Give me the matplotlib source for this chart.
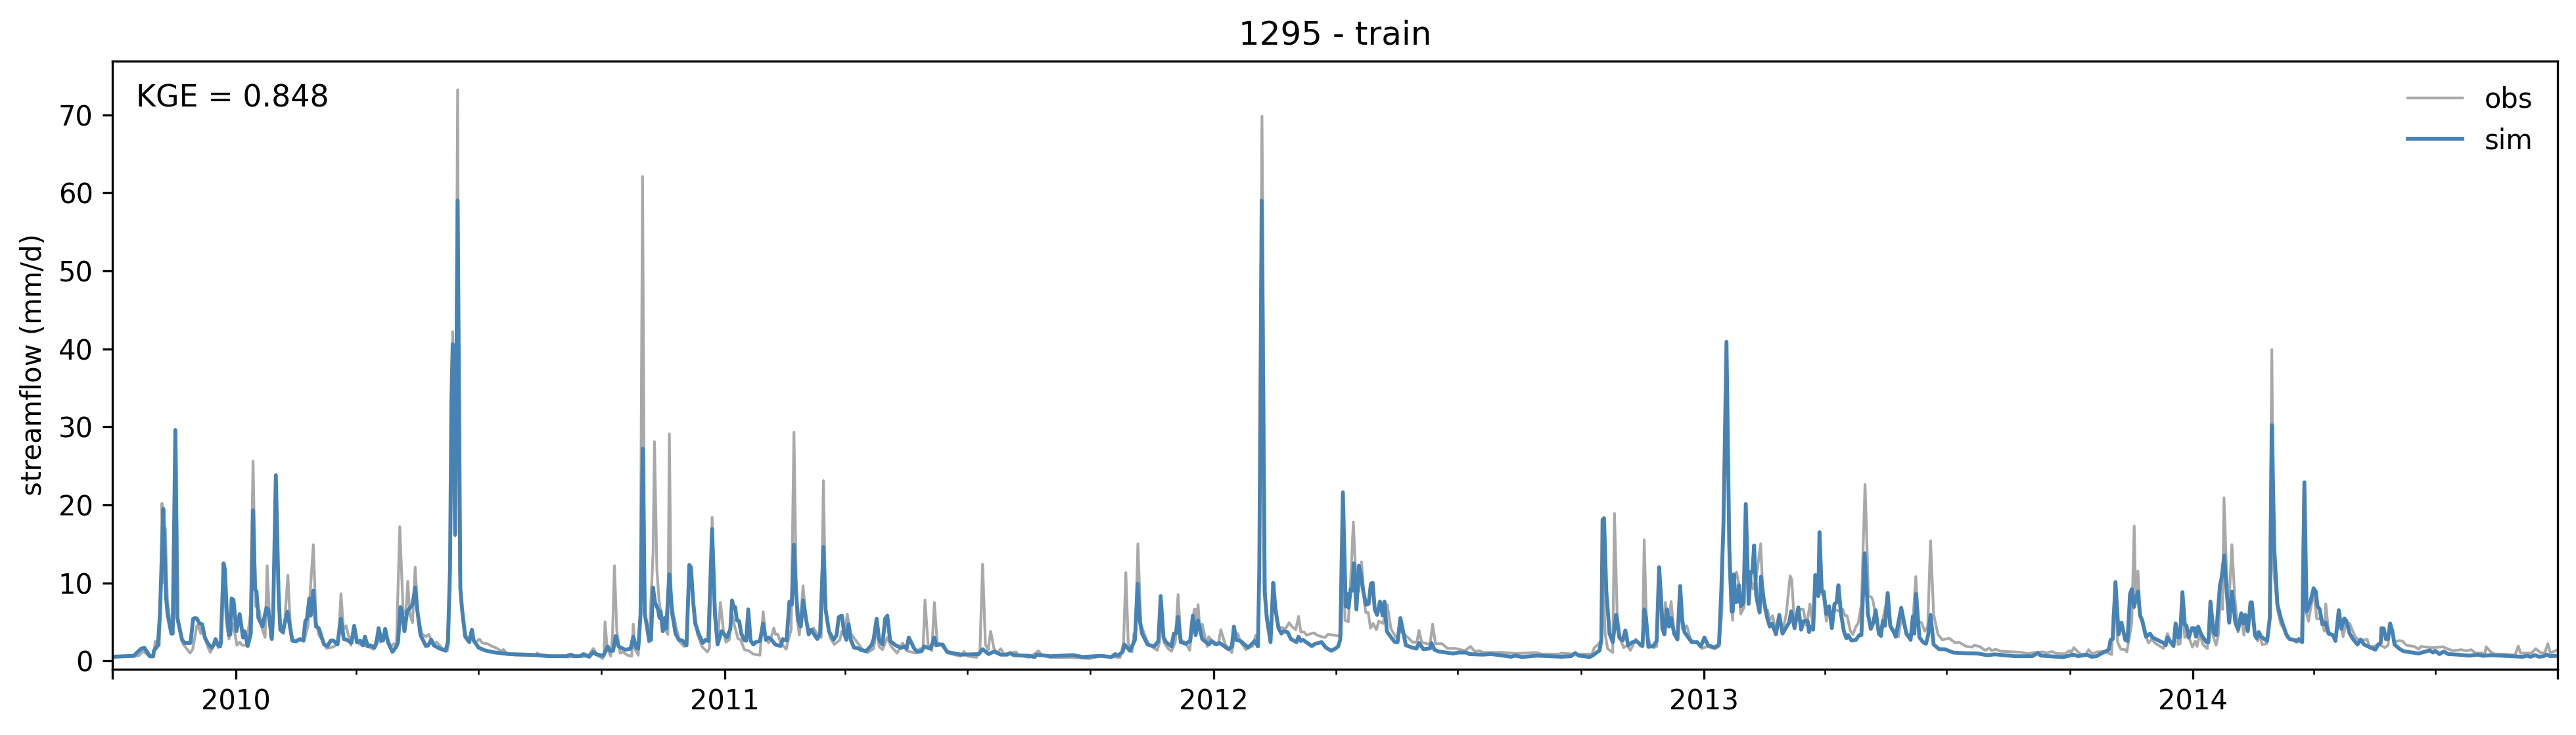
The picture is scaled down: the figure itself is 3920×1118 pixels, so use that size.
import numpy as np
import pandas as pd
import matplotlib
matplotlib.use("Agg")
import matplotlib.pyplot as plt
import matplotlib.dates as mdates

# values: days since start_date, flow in mm/d
start_date = "2009-10-01"
end_date = "2014-09-30"
year_ticks = ["2010-01-01", "2011-01-01", "2012-01-01", "2013-01-01", "2014-01-01"]
year_labels = ["2010", "2011", "2012", "2013", "2014"]
y_ticks = [0, 10, 20, 30, 40, 50, 60, 70]
kge = 0.848

obs_day = [0, 16, 20, 23, 26, 28, 30.5, 32, 35, 36.5, 37, 38.5, 39.5, 41, 43, 45, 46, 47.5, 49, 52.5, 58, 60, 63, 64, 66, 67, 71, 73, 75, 77, 79, 81, 83, 85, 87, 90, 93, 95, 97, 100, 103, 105, 107, 109.6, 112, 114, 115.5, 118, 119.5, 122, 124, 126, 128, 131, 133, 135, 140, 143, 146, 150, 152, 154, 160, 165, 168, 169.5, 170.6, 172.5, 174.5, 178, 180, 183, 186, 190, 195, 198, 200, 204, 206, 208, 210, 212, 214.5, 217, 219, 220.5, 222, 224, 226, 228,
           231, 234, 236, 238, 240, 242, 248, 250, 251, 252.5, 254, 255.8, 257.7, 259, 261, 263, 266, 268, 270, 272, 274, 276, 280, 283, 286, 290, 292, 294, 300, 316, 317, 319, 330, 340, 350, 355, 359, 362, 366, 367, 367.7, 369.3, 372, 373.3, 374.7, 376.5, 379, 381, 384.4, 387.6, 388.8, 390, 392.5, 394, 395.7, 397.4, 400.4, 402.3, 403.6, 404.6, 406.4, 408, 410.5, 414.6, 415.7, 417, 421, 423.6, 426.8, 428.8, 430.6, 432, 433.7, 436.6, 440, 444, 445.6, 447.6, 449.7, 451.7, 453.8, 456.3,
           458, 460.4, 462.5, 464.5, 467, 468.6, 471.8, 475, 478.4, 483.3, 485.7, 487.7, 489.8, 492.3, 493.6, 495, 496.7, 498.8, 502.9, 504.5, 506.6, 508.7, 510.7, 512.7, 515.5, 517.6, 519.7, 523.3, 526.6, 529, 530.7, 532.3, 535.6, 538.8, 543, 544.5, 546.7, 548.5, 551, 555.2, 560, 563.7, 568.2, 570.4, 572.3, 574.8, 578.4, 581.3, 585.7, 589.8, 592.8, 599.3, 602.6, 605, 606.5, 608.8, 611.6, 613.5, 615.6, 619.7, 623.8, 632.8, 635.6, 638.5, 645, 647.5, 649.5, 651.6, 653.7, 655.5, 658, 660.6, 663, 665.5, 674.5, 676,
           684, 689.2, 691.2, 693.3, 699.8, 716, 729.2, 737.4, 752.1, 754.7, 756.4, 758.2, 761.1, 762.4, 763.6, 765.4, 767.6, 770.1, 773.4, 779.9, 781.5, 782.4, 784.8, 788, 790.5, 793.3, 795.4, 797.4, 801.1, 804.1, 806, 807.4, 808.5, 809.3, 810.3, 811.8, 813.4, 817.2, 818.3, 822.4, 825.7, 827.3, 830.6, 835.5, 837.9, 840, 842, 846.1, 848.5, 851, 853.4, 855, 856, 858, 860.5, 862.4, 864.4, 866.4, 868.5, 870.6, 875.5, 878.3, 880.4, 883.2, 885.3, 887, 889.4, 891.3, 896.7, 899.2, 902.5, 905, 907.3,
           911.5, 915.6, 917.2, 918.4, 920, 922.5, 924.6, 926.2, 927.8, 928.7, 930.3, 932.3, 934.4, 935.5, 937.3, 939, 941, 943.4, 945.3, 948.3, 951.5, 954.3, 958, 961.3, 967, 970.3, 973.6, 975.2, 977.2, 981, 983.4, 985.4, 987.5, 992.4, 996.5, 1002.2, 1009.5, 1013.6, 1016.9, 1020.2, 1023.4, 1037.3, 1047.1, 1062.6, 1066.7, 1079.8, 1081.4, 1091.2, 1096.1, 1104.3, 1106, 1108.9, 1111.2, 1112.5, 1114.1, 1116, 1119.8, 1121.1, 1123.1, 1125.6, 1128, 1130.5, 1133, 1137,
           1140.3, 1142, 1143.3, 1145.2, 1147.7, 1150.1, 1152.6, 1154.4, 1156.3, 1158.3, 1159.1, 1161.2, 1163.4, 1165.6, 1168.1, 1170.1, 1171.7, 1175.1, 1177.9, 1182.8, 1186.4, 1190.2, 1195.9, 1199.1, 1201.3, 1204.7, 1206.8, 1209.3, 1210.3, 1212.2, 1213.8, 1215.3, 1217.9, 1219.1, 1221.2, 1222.8, 1224.5, 1226.8, 1230.2, 1231.8, 1233.5, 1235.4, 1237, 1239.2, 1241.6, 1244.1, 1246.5, 1249.3, 1252.2, 1253.4, 1255.5, 1258.3, 1262, 1264.5, 1267, 1269.4, 1271, 1274.1, 1277.2, 1279.2, 1281.3, 1283.3, 1285.7, 1289, 1291.5, 1293.1, 1294.7, 1297.2, 1299.1, 1301.3, 1302.9, 1305.4, 1308.1, 1310.7, 1312.7, 1314, 1316.8, 1319.2, 1325, 1327.4, 1331, 1333.1, 1335.1, 1339.7, 1342.1, 1344.1, 1346, 1347.8, 1350.3, 1352.7, 1354.9, 1357, 1359.3, 1362.5, 1365.8,
           1370.8, 1375.7, 1378.1, 1383.8, 1387.9, 1389.6, 1393.6, 1397.7, 1401, 1402.6, 1405.4, 1409.2, 1424.7, 1429.6, 1434.5, 1441, 1443.5, 1447.6, 1450.8, 1457.4, 1460.6, 1462, 1463.9, 1468.8, 1472.9, 1475, 1477.8, 1481, 1485.1, 1489.2, 1492.2, 1493.3, 1495, 1496.6, 1499, 1502.3, 1503.5, 1505.6, 1507.2, 1509, 1510.1, 1511.8, 1513.4, 1517, 1519.8, 1522, 1524.4, 1530.9, 1533.8, 1536.6, 1538.6, 1540, 1541.7, 1543.3, 1545, 1546.7, 1549.2, 1552.5, 1554.6, 1555.9, 1557.9, 1560.3, 1563.6, 1565.9, 1567.7, 1570.1, 1571.8, 1573.7, 1575, 1576, 1577.8, 1579.4, 1581.9, 1584, 1586.5, 1588.9, 1590.9, 1592.2, 1593.8,
           1596.8, 1599.1, 1601.2, 1602.9, 1604.5, 1607.8, 1609.9, 1611.7, 1613.1, 1615.9, 1618.4, 1620.8, 1623.3, 1630.1, 1633.9, 1635.8, 1637.7, 1639.1, 1642.9, 1645.3, 1648.6, 1651, 1652, 1654, 1657.6, 1659.6, 1661.7, 1664.9, 1666.6, 1669.8, 1673.9, 1677.2, 1682.9, 1684.6, 1687.8, 1691.9, 1696, 1698.4, 1700, 1703.3, 1706.6, 1709, 1712.3, 1718, 1721.3, 1723, 1731.1, 1739.3, 1742.6, 1746.6, 1753.2, 1756.5, 1760.5, 1763.8, 1768.7, 1770.7, 1771.6, 1775.2, 1777.7, 1785, 1793.2, 1795.7, 1797.3, 1805.5, 1808.7, 1812, 1815.3, 1817.7, 1819.7, 1824]

obs_flow = [.5, .55, .7, 1.3, .8, .5, .5, 2.5, 2, 10, 20.2, 10, 17, 8, 5, 3.5, 6, 29, 5.5, 2.2, 1, 1.5, 4.5, 4.6, 3.5, 4.5, 1.9, 1.1, 1.7, 2.8, 1.7, 2.2, 12, 5, 2.8, 4.8, 2, 2.4, 2, 2, 6, 25.6, 7, 6.5, 4, 3, 12.2, 3, 3.3, 22, 7, 4, 3.5, 11, 4, 2.5, 2.8, 2.5, 4.5, 14.9, 5, 3.4, 1.6, 1.8, 2.2, 5, 8.6, 4, 4.5, 2, 4.3, 2.3, 2, 1.9, 1.5, 3.5, 2.4, 3.5, 2.6, 1.8, 2.2, 2, 17.2, 6.5, 6, 10.2, 6, 4.9, 12, 6,
            3.5, 3.1, 3.4, 2.7, 2.2, 2.4, 1.3, 1.3, 2.5, 15, 42.2, 16, 73.2, 12, 6, 3.2, 3, 3.2, 2.5, 2.5, 2.8, 2.3, 2.2, 1.9, 1.7, 1.3, 1.45, 1, .75, .7, 1, .8, .6, .5, .55, .6, 1.6, .7, .3, 1, 5, 1.6, .6, 3.3, 12.2, 3.8, 1, 1.15, .73, .6, 4.7, 1.57, .73, 6, 62.1, 6, 2.4, 8.9, 14, 28.1, 11.7, 7.8, 4.7, 3.4, 29.1, 7.5, 4.1, 2.4, 1.85, 2, 12, 11, 7.5, 3.5, 1.85, 1.15, 1.6, 18.4, 7.5, 2.1, 7.5, 3.5,
            2.4, 2.7, 6, 4.4, 2.8, 2.8, 1.43, 1.3, .87, .73, 6.3, 3, 2.3, 3.3, 4.2, 3.4, 3.4, 2.3, 1.5, 2.7, 4, 29.3, 6, 3.3, 9.6, 5.5, 3.5, 4.2, 3.3, 3, 23.1, 6.6, 3, 2.1, 2.7, 3.8, 3.8, 6, 3.5, 2.55, 1.43, 1.07, 1.57, 4.4, 1.85, 1.43, 3, 1.85, 1, 2.3, 1.3, 1, 1.57, 1.43, 7.8, 2.1, 1.3, 7.5, 2.4, 1.85, 1, .6, 1.2, .6, .45, 1.3, 12.4, 2.1, 1.43, 3.8, 1.57, 1, 1.57, .87, 1.15, .73,
            .45, 1, 1.3, .8, .45, .45, .3, .6, .45, 2.3, 11.3, 2.3, 1.15, 3.5, 3.3, 15, 4.7, 3.5, 2.1, 1.35, 2.4, 7.75, 2.4, 1.57, 1.24, 2.4, 8.5, 2.7, 2.3, 1.35, 4.4, 6.6, 6.6, 4.4, 7.2, 3.5, 4.7, 1.85, 3.1, 2.1, 2.4, 4, 2.1, 1.07, 3.3, 3.5, 2.4, 1.43, 1.85, 1.85, 3.3, 1.85, 11.7, 69.8, 8.3, 4.7, 2.4, 8.9, 6, 4.4, 4.1, 4.9, 4.4, 4, 5.7, 3.7, 3.7, 3.3, 3.6, 3.3, 3.1, 3, 3.4,
            3.3, 3.2, 3.3, 14.5, 5.2, 5, 11.7, 17.8, 11.7, 10, 8.9, 12.7, 7.5, 6.2, 6.2, 4.2, 4.8, 4, 5.1, 4.8, 7.2, 4.1, 3, 3.8, 3, 2.4, 2.4, 3.9, 2.4, 2.2, 2.1, 4.7, 2.2, 2.2, 1.6, 1.6, 1.3, 1.85, 1.2, 1.3, 1.07, 1.1, .95, 1.07, .87, .87, 1, .87, .87, .87, 1.7, 2.1, 2.7, 11.7, 3.5, 1.57, 1.07, 18.9, 6, 2.7, 1.7, 2, 1.35, 2.8,
            1.9, 1.85, 15.5, 3.5, 2.1, 1.7, 1.85, 11.7, 4.1, 3.5, 7.5, 4.4, 7.6, 3.5, 2.75, 8.9, 4.1, 4.5, 2.7, 2.3, 1.57, 1.85, 1.57, 1.85, 6.35, 40.9, 11.7, 5.2, 10, 11.4, 10, 6, 6.9, 17.3, 7.75, 10.5, 9.2, 10.5, 15, 8.9, 6.35, 6.5, 5.2, 5.8, 3.7, 5.2, 3.7, 6, 10.9, 10.4, 4.4, 6.6, 6.6, 4.5, 7.3, 4.1, 9.2, 8.9, 8.3, 5.1, 6.6, 4.7, 6.6, 6.35, 6.6, 5.8, 5.8, 3.8, 3.4, 4.4, 4.8, 7.2, 22.6, 8.3, 8.2, 7.75, 4.9, 3.5, 8.3, 4.1, 3.4, 3.1, 5.5, 3.5, 3, 5.8, 10.8, 5.1, 4.9, 3.8, 4.4, 15.4, 6, 3.4, 2.7,
            2.9, 2.3, 2.4, 1.85, 1.77, 2, 1.85, 1.35, 1.63, 1.3, 1.5, 1.24, 1.1, .93, 1.07, 1.15, 1, 1.2, .95, .9, 1.3, 1.07, 1.7, .87, .87, 1.43, .87, 1.15, 1.2, 1.07, .8, 6, 9.2, 2.4, 1.5, 1.43, 1.15, 3.3, 4.9, 17.3, 7.75, 11.5, 6, 3.3, 2.3, 2.8, 2.3, 1.6, 3.5, 2.3, 1.9, 4.7, 2.1, 2.2, 7.75, 3, 3.3, 1.77, 2.55, 1.85, 3.5, 2.1, 1.57, 6.35, 3.3, 2, 3.3, 9.2, 6.6, 20.9, 12, 6, 14.9, 8.3, 3.7, 5.5, 3.3, 5.5, 4.1,
            7.2, 3.3, 2.55, 3.3, 2.1, 2.2, 5.2, 39.9, 11.7, 6.6, 4.7, 4.1, 3, 2.4, 2.55, 22.5, 6, 5.1, 8.9, 5.4, 5.4, 3.8, 7.3, 3.8, 3.1, 3, 6, 3.1, 4.5, 4.8, 3.1, 2.55, 2.75, 1.85, 1.85, 2.1, 1.7, 2, 4.7, 2.4, 2.6, 2.55, 2, 1.85, 1.5, 1.85, 1.7, 1.8, 1.57, 1.3, 1.43, 1.3, 1.43, 1, 1, .87, 1.8, 1.15, .87, .87, .73, 1.9, 1, 1, 1.57, 1.07, 1, 2.2, 1, 1.35]

sim_day = [0, 16, 18, 21.5, 24, 26.5, 28, 30.5, 31, 34, 35.5, 38, 39, 40, 41.2, 44, 45, 47, 48.5, 52, 54, 58.3, 60.3, 61.6, 63, 65, 67, 69, 71.4, 74, 75.5, 77, 79, 80.4, 81, 83, 84, 85.3, 87, 88, 89, 90.4, 92.6, 95, 97.5, 98.7, 101, 103.3, 105, 106.5, 107.6, 109, 112, 115, 116.3, 119, 120, 122, 124, 125.3, 127, 130.7, 134.3, 137, 140, 142.5, 144, 145.2, 147, 148, 150, 152, 154, 158, 160.5, 163, 165, 168, 170.6, 172.7, 175, 178.4, 180.5, 182.5, 185, 187, 188.5, 190.7, 192.3, 195.6, 197.2, 198.7, 200.8, 202, 203.6, 205.7, 209, 212, 213.2, 215, 216, 218, 220, 224, 226, 227.5,
           230, 234, 235.7, 238, 239.8, 244, 248.7, 250.4, 252, 253, 254, 255.8, 257.7, 259.7, 261, 263.4, 266.4, 268.3, 269.7, 273.3, 278, 284.7, 296, 309, 317.4, 325.5, 338.6, 342, 345, 349, 351.7, 355.8, 359, 360.7, 366.4, 369.7, 371.3, 373.7, 375.7, 377.8, 382.7, 386.8, 388.8, 391, 392.5, 394.2, 395.8, 397.4, 400.7, 402, 403.5, 405, 407.2, 408.4, 409.2, 410.8, 412.1, 413.4, 415.7, 417.9, 420.3, 422.8, 425.5, 428.5, 430.6, 431.8, 433.4, 435, 437.5, 440.7, 442.7, 444.8, 447.6, 449.7, 451.7, 454.6,
           458.8, 461.2, 462.5, 463.7, 464.8, 466.1, 467.8, 469.4, 471.8, 473, 474.6, 476.3, 478.4, 480, 483.3, 485.7, 487.7, 489.5, 491.8, 494.7, 498.8, 500.4, 502, 503.2, 505.3, 507.1, 508.6, 510.2, 511.9, 513.8, 515.6, 517.6, 519.7, 521.7, 524.1, 526.1, 528.2, 530.7, 532.3, 534.8, 538.3, 540.5, 542.1, 544.5, 546.2, 547.8, 549.5, 551.1, 553.5, 556.8, 558.4, 562.5, 566.6, 568.2, 570.4, 572.3, 574.8, 576.7, 578.4, 580.5, 584.6, 588.7, 591.1, 592.8, 594.4, 598.5, 601, 603.9, 605.8, 610.7, 613.5, 614.8, 617.3, 619.7, 623, 628.7, 633.6, 646.7, 649.5, 654, 658.1, 663, 667.9, 669.9, 672.8,
           684, 688.4, 689.7, 699.8, 717, 724.4, 737.4, 745.6, 748.5, 750.5, 754, 755.4, 759.5, 761.6, 763.2, 765.2, 766.8, 768.5, 772.6, 777.5, 780.7, 782.4, 784.5, 786.4, 790.5, 792.2, 793.8, 795.4, 797.4, 801.1, 804.4, 806.4, 808.5, 810.3, 813.4, 818.3, 820.4, 824, 826.5, 833, 835.5, 837.1, 838.7, 842, 847.7, 852.6, 855, 856, 857.8, 860, 861.6, 864.4, 866.4, 868.1, 870.3, 872.5, 873.9, 877.1, 879.6, 883.7, 885.3, 887, 888.6, 895.1, 897.9, 902.5, 905.7, 909.8,
           913, 914.8, 916.4, 918.4, 920.5, 921.6, 922.6, 924.2, 925.4, 926.5, 928.5, 930.3, 931.9, 933.6, 935.7, 937.6, 939.3, 940.6, 942.2, 943.9, 946.1, 948.1, 949.4, 951.2, 954, 957.3, 959.2, 961.3, 965.4, 970.3, 973.3, 975.2, 978.5, 983.4, 984.5, 986.7, 990, 1000.6, 1004.6, 1010.4, 1012.8, 1022.6, 1029.1, 1035.7, 1043.9, 1047.1, 1052, 1063.5, 1081.4, 1088.8, 1091.7, 1094.5, 1102.7, 1105.1, 1110, 1111.3, 1112.2, 1113.3, 1115, 1117.4, 1119.8, 1122.3, 1124.7, 1127.2, 1129.2, 1131.3, 1134.5, 1137.3,
           1142, 1143.4, 1144.7, 1146.4, 1150.1, 1152.6, 1154.4, 1155.8, 1157.1, 1158.3, 1160.3, 1161.9, 1163.5, 1165.6, 1168.1, 1170.1, 1171.7, 1173.3, 1178.7, 1182.8, 1185.6, 1188.2, 1191, 1195.9, 1199.1, 1200.8, 1202.4, 1204.7, 1206.8, 1208.5, 1209.4, 1210.3, 1211.4, 1212.2, 1213, 1214, 1215.6, 1217.4, 1219.1, 1221.2, 1222.8, 1224, 1225.3, 1226.9, 1229.4, 1230.4, 1232.6, 1235.1, 1237, 1238.7, 1241.6, 1244.1, 1246.5, 1248.6, 1251.4, 1253, 1255.5, 1258.3, 1260.4, 1262.4, 1265.3, 1266.3, 1267.8, 1269.4, 1271, 1273.2, 1274.1, 1275.8, 1277.2, 1279.2, 1281.3, 1283.3, 1285.3, 1286.9, 1288.2, 1290.2, 1292.3, 1294.2, 1295.5, 1298, 1301.3, 1303.7, 1305.4, 1307.8, 1310.3, 1312.4, 1314.3, 1316, 1318.4, 1320, 1321.4, 1323, 1325, 1326.9, 1329, 1331, 1335.1, 1338.9, 1342.1, 1343.8, 1344.9, 1346.2, 1348.7, 1351.4, 1353.6, 1355.2, 1357, 1359.3, 1363.4,
           1367.5, 1374, 1380.6, 1392, 1399.4, 1405.1, 1419.8, 1432.9, 1437, 1439.4, 1455.7, 1463.9, 1467.2, 1473.7, 1477, 1481, 1483.5, 1490, 1491.4, 1493, 1495, 1497.4, 1499.5, 1502.3, 1504, 1505.9, 1507.2, 1508.8, 1511.8, 1513.4, 1515, 1517.8, 1520.8, 1522.7, 1530.9, 1532.5, 1533.8, 1538.3, 1539.9, 1542, 1543.2, 1545, 1546.7, 1548, 1549.7, 1552.1, 1553.8, 1555.1, 1556.7, 1559, 1562.8, 1564.4, 1565.9, 1568.2, 1570.1, 1573, 1574.2, 1576.2, 1577.8, 1579.9, 1582, 1584.5, 1586.5, 1588.9, 1590.5, 1591.9, 1593.8, 1595.8,
           1596.8, 1599.1, 1600.4, 1602, 1603.7, 1608.2, 1610.2, 1611.8, 1613.5, 1615.9, 1618.4, 1620.3, 1622.5, 1624.9, 1628.2, 1630.1, 1631.8, 1634.4, 1636, 1637.7, 1640.4, 1642.9, 1644.5, 1645.8, 1647.5, 1649.4, 1651.9, 1654, 1657.3, 1659.2, 1661.7, 1663.6, 1665.8, 1667.4, 1669.8, 1672.3, 1675.6, 1678, 1680.5, 1685.4, 1689, 1691.1, 1693, 1693.5, 1695.2, 1696.8, 1698.4, 1700, 1701.7, 1703.3, 1706.6, 1709.9, 1721.3, 1729.5, 1732, 1733.6, 1736.8, 1740.1, 1743.4, 1750.7, 1759, 1765.4, 1769.5, 1775.2, 1790, 1798.9, 1802.2, 1804.7, 1808, 1811.2, 1814.5, 1817, 1819.4, 1824]

sim_flow = [.53, .65, 1, 1.57, 1.66, 1, .6, .6, 1.3, 2, 6, 19.5, 14.5, 8.3, 6, 3.5, 3.5, 29.6, 5.5, 2.7, 2.3, 2.3, 5.4, 5.5, 5.45, 4.8, 4.7, 3, 2.2, 1.7, 2, 2.8, 2, 1.85, 2.4, 12.5, 11.7, 6.6, 3.3, 3.4, 8, 7.8, 3.8, 6, 3, 3.8, 1.9, 3.5, 19.3, 9.2, 8.9, 5.5, 4.4, 6.8, 6.6, 2.8, 6, 23.8, 8.9, 4, 3.7, 6.3, 2.6, 2.5, 2.8, 2.6, 5.1, 5.4, 8, 5.8, 9, 4.4, 4.2, 2.1, 1.9, 2.6, 2.6, 2.1, 5.4, 2.8, 2.7, 2.3, 4.5, 2.4, 2.6, 2, 3.1, 1.85, 2, 1.7, 2.3, 4.2, 2.6, 2.6, 4.1, 2.4, 1.15, 1.85, 2.4, 6.9, 6.35, 3.8, 6.35, 7.2, 9.4, 6.6,
            3.3, 1.9, 2, 2.7, 2, 1.6, 1.3, 2.4, 11.7, 33, 40.6, 16.2, 59, 9.3, 6.6, 3.1, 2.4, 4, 2.6, 1.7, 1.35, 1.1, .87, .8, .73, .6, .6, .8, .6, .6, .87, .53, 1.15, .87, .65, 1.85, 1.3, 1.3, 3.2, 1.85, 1.43, 1.57, 3.1, 1.7, 1.57, 6, 27.2, 6, 2.6, 2.7, 9.4, 7.5, 6.6, 5.5, 6.35, 3.8, 5.5, 4.2, 11.1, 6, 3.5, 2.7, 2.6, 2, 12.3, 12, 7.75, 4.8, 3.5, 2.3, 2.7, 2.55, 16.9, 6, 2.1, 3.8,
            3, 4.1, 7.75, 6.9, 6.9, 5.2, 5.1, 3.5, 2.6, 2.6, 6.6, 2.6, 2.1, 2.4, 2.55, 4.8, 2.7, 3, 2.75, 2.1, 1.9, 2.8, 2.7, 2.6, 7.6, 7.2, 14.9, 8.9, 5.2, 4.4, 7.75, 5.5, 3.4, 4, 3.3, 2.8, 3.5, 14.6, 6.6, 3.8, 2.7, 3.3, 5.6, 5.8, 3.5, 2.7, 4.7, 2.7, 1.7, 1.6, 1.43, 1.24, 2, 2.8, 5.4, 2.7, 2.1, 5.4, 5.8, 2.55, 2, 1.66, 1.85, 1.57, 3, 1.57, 1.15, 1.24, 1.85, 1.57, 3, 2, 2.1, 2.1, 1.15, .95, .8, .87, 1.5, .87, 1.2, .8, .8, 1, .73,
            .65, .5, .8, .6, .73, .5, .65, .5, .87, .67, 1.15, 2.1, 1.3, 2.1, 2.7, 9.9, 5.2, 3.5, 2.1, 1.85, 2.55, 8.3, 3, 2.4, 1.85, 3.5, 3.5, 5.65, 2.4, 2.2, 2.55, 5.8, 3.3, 5.2, 2.8, 2.1, 2.55, 2.1, 2.3, 1.5, 1.85, 4.4, 2.7, 2.55, 1.7, 2.55, 1.85, 11.7, 59, 8.9, 5.5, 2.4, 10, 6.6, 4.2, 3.5, 3.8, 3.7, 2.8, 2.4, 3.1, 2.55, 2.7, 1.9, 2.2, 2.4, 1.7, 1.3,
            1.6, 1.85, 2.7, 21.6, 7, 8.6, 6.8, 9.2, 9, 12.5, 6.6, 12.2, 11.1, 8.9, 7.2, 7.3, 9.9, 10, 6.6, 5.9, 7.6, 5.8, 7.6, 3.8, 3.1, 2.4, 2.4, 5.5, 2, 1.7, 1.57, 2.3, 1.5, 1.6, 2.3, 1.43, 1.2, .95, 1.07, 1.07, .87, .8, .87, .73, .53, .67, .5, .67, .53, .6, 1, .67, .5, .73, 1.35, 2.7, 18.1, 18.3, 8.9, 3.5, 2.4, 5.9, 3, 2.6, 3.9, 2, 2.4, 2.55,
            1.9, 6.6, 5.5, 1.8, 1.9, 2.55, 12, 8.3, 4.1, 3.4, 6.6, 4.4, 5.5, 3.5, 2.75, 9.6, 5.2, 3.7, 2.4, 2.4, 1.85, 3, 2, 1.7, 2.1, 8.9, 17.3, 40.9, 14.5, 6.35, 6.35, 11.1, 7.5, 8.9, 7.6, 9.7, 7, 7.5, 20.1, 7.3, 11.4, 11.4, 14.8, 8.3, 6.2, 10.8, 7.75, 5.5, 4.4, 4.8, 3.4, 5.9, 3.5, 4.1, 4.9, 6.35, 4.2, 6.85, 4, 5.1, 5.1, 3.7, 4.4, 4, 11, 8.3, 16.5, 8.9, 8.9, 6, 7, 4.2, 7.3, 7.5, 9.7, 6, 3.8, 2.9, 3.3, 2.6, 2.7, 3.3, 3.3, 13.8, 6, 4.1, 4.9, 6.5, 3.5, 3.2, 5.1, 4.5, 8.7, 4.5, 3.9, 3.1, 6.8, 3.5, 2.7, 5.7, 3.5, 8.6, 3, 2.4, 2.2, 3.3, 5.9, 2.1, 1.5,
            1.5, 1.07, 1, .95, .73, .84, .6, .6, 1, .67, .48, .8, .6, .8, .53, .6, .87, 1.43, 2.7, 2.8, 10.1, 3.4, 4.9, 2.7, 2.55, 8.6, 9.2, 6.9, 8.9, 5.8, 5.2, 3.1, 3.5, 3, 2.3, 2, 3, 1.9, 4.8, 3, 3.1, 8.8, 4.7, 4.5, 3, 4.2, 4.2, 3.1, 4.4, 3.4, 2.4, 2.4, 7.6, 3.7, 3.3, 9.7, 10.6, 13.5, 9.4, 4.9, 8.9, 4.9, 4, 6.1, 4.8, 5.9, 3.8, 7.5,
            7.5, 3.3, 2.9, 3.7, 3.1, 2.55, 5.5, 30.2, 14.5, 7.2, 5.5, 4.5, 3.4, 2.8, 2.7, 2.55, 2.8, 2.4, 22.9, 6.35, 7.5, 9.3, 8.9, 7, 6.6, 4.7, 4.9, 3.5, 3.3, 2.55, 6.5, 4.1, 5.45, 5.1, 3.5, 2.8, 2.1, 2.75, 2.1, 1.7, 1.43, 2.1, 2.3, 4.2, 4.15, 2.8, 2.8, 4.8, 3.8, 2.1, 1.6, 1.24, .95, 1.35, 1.07, 1.3, .87, 1.2, .87, .8, .67, .8, .65, .73, .6, .53, .67, .53, .73, .53, .6, .8, .6, .65]

assert len(obs_day) == len(obs_flow), (len(obs_day), len(obs_flow))
assert len(sim_day) == len(sim_flow), (len(sim_day), len(sim_flow))

t0 = pd.Timestamp(start_date)
obs_t = t0 + pd.to_timedelta(obs_day, unit="D")
sim_t = t0 + pd.to_timedelta(sim_day, unit="D")

fig = plt.figure(figsize=(3920 / 300, 1118 / 300), dpi=300)
ax = fig.add_axes([171 / 3920, 1 - 1017.5 / 1118, (3892 - 171) / 3920, (1017.5 - 92.7) / 1118])

ax.plot(obs_t, obs_flow, color="darkgray", lw=1, label="obs")
ax.plot(sim_t, sim_flow, color="steelblue", lw=1.4, label="sim")

ax.set_xlim(pd.Timestamp(start_date), pd.Timestamp(end_date))
ax.set_ylim(-1.03, 76.9)
ax.set_yticks(y_ticks)

major = [start_date] + year_ticks + [end_date]
ax.set_xticks(pd.to_datetime(major))
ax.set_xticklabels([""] + year_labels + [""])
ax.xaxis.set_minor_locator(mdates.MonthLocator(bymonth=[4, 7, 10]))
ax.tick_params(axis="x", which="minor", length=2)

ax.set_ylabel("streamflow (mm/d)")
ax.set_title("1295 - train", fontsize=12)
ax.text(0.0098, 0.938, f"KGE = {kge:.3f}", transform=ax.transAxes, fontsize=11, va="center")
ax.legend(loc="upper right", frameon=False)

fig.savefig("out.png", dpi=300)
